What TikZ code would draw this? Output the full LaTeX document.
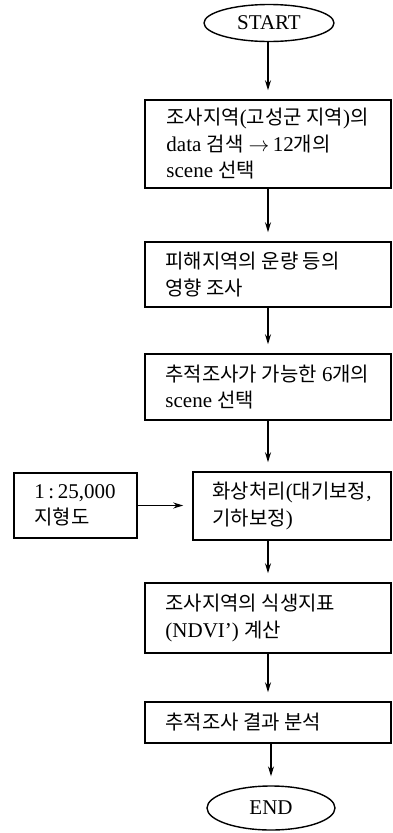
\documentclass[tikz,border=0pt]{standalone}
\usepackage{fontspec}
\setmainfont{Liberation Serif}
\newfontfamily\krfont{Noto Sans CJK KR}[Scale=0.95]
\newcommand\K[1]{{\krfont #1}}
\usetikzlibrary{arrows.meta,shapes.geometric}
\begin{document}
\begin{tikzpicture}[x=1pt,y=-1pt,
  boxframe/.style={draw, line width=1.5pt, rectangle, inner sep=0pt},
  txt/.style={anchor=west, inner sep=0pt, align=left, font=\fontsize{21}{26.5}\selectfont},
  term/.style={draw, line width=1.4pt, ellipse, inner sep=0pt, font=\fontsize{21}{24}\selectfont},
  arr/.style={line width=1.3pt, -{Stealth[length=10pt,width=6pt]}, shorten >=9pt}]
\useasboundingbox (0,0) rectangle (393,833);
% terminals
\node[term, minimum width=130pt, minimum height=37pt] (start) at (269,23) {START};
\node[term, minimum width=128pt, minimum height=44pt] (end) at (271,808) {END};
% frames
\node[boxframe, minimum width=246pt, minimum height=88pt] (b1) at (268,144) {};
\node[boxframe, minimum width=246pt, minimum height=65pt] (b2) at (268,274.5) {};
\node[boxframe, minimum width=246pt, minimum height=66pt] (b3) at (268,387) {};
\node[boxframe, minimum width=198pt, minimum height=68pt] (b4) at (292,506) {};
\node[boxframe, minimum width=123pt, minimum height=65pt] (bl) at (75.5,505.5) {};
\node[boxframe, minimum width=246pt, minimum height=70pt] (b5) at (268,618) {};
\node[boxframe, minimum width=246pt, minimum height=41pt] (b6) at (268,722.5) {};
% texts
\node[txt] (t1) at ([xshift=22pt]b1.west) {\K{조사지역}(\K{고성군 지역})\K{의}\\data \K{검색} $\rightarrow$\,12\K{개의}\\scene \K{선택}};
\node[txt] (t2) at ([xshift=21pt]b2.west) {\K{피해지역의 운량 등의}\\\K{영향 조사}};
\node[txt] (t3) at ([xshift=21pt]b3.west) {\K{추적조사가 가능한} 6\K{개의}\\scene \K{선택}};
\node[txt] (t4) at ([xshift=20pt]b4.west) {\K{화상처리}(\K{대기보정},\\\K{기하보정})};
\node[txt] (tl) at ([xshift=21pt]bl.west) {1\,:\,25,000\\\K{지형도}};
\node[txt] (t5) at ([xshift=21pt]b5.west) {\K{조사지역의 식생지표}\\(NDVI{\char"27}) \K{계산}};
\node[txt] (t6) at ([xshift=21pt]b6.west) {\K{추적조사 결과 분석}};
% connectors
\draw[arr] (start.south -| b1.north) -- (b1.north);
\draw[arr] (b1.south) -- (b2.north);
\draw[arr] (b2.south) -- (b3.north);
\draw[arr] (b3.south) -- (b3.south |- b4.north);
\draw[arr] (bl.east) -- (bl.east -| b4.west);
\draw[arr] (b5.north |- b4.south) -- (b5.north);
\draw[arr] (b5.south) -- (b6.north);
\draw[arr] (b6.south) -- (b6.south -| end.north) -- (end.north);
\end{tikzpicture}
\end{document}
